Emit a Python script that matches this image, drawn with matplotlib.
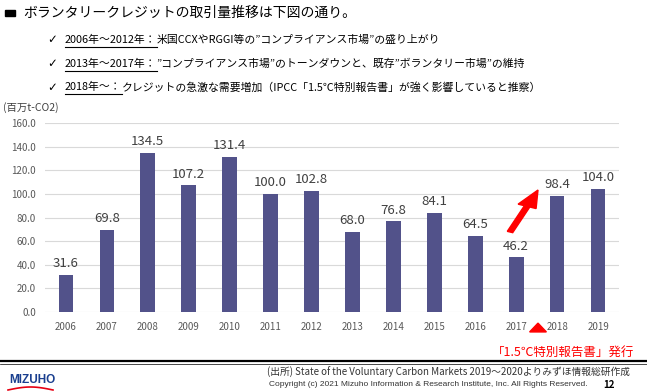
import matplotlib
matplotlib.use("Agg")
import matplotlib.pyplot as plt
from matplotlib.lines import Line2D
from matplotlib.patches import FancyArrow, RegularPolygon
import numpy as np

plt.rcParams['font.family'] = ['Noto Sans CJK JP', 'DejaVu Sans']

years = ['2006', '2007', '2008', '2009', '2010', '2011', '2012',
         '2013', '2014', '2015', '2016', '2017', '2018', '2019']
volumes = [31.6, 69.8, 134.5, 107.2, 131.4, 100.0, 102.8,
           68.0, 76.8, 84.1, 64.5, 46.2, 98.4, 104.0]
y_ticks = [0, 20, 40, 60, 80, 100, 120, 140, 160]

title = 'ボランタリークレジットの取引量推移は下図の通り。'
bullets = [
    ('2006年～2012年：', '米国CCXやRGGI等の”コンプライアンス市場”の盛り上がり'),
    ('2013年～2017年：', '”コンプライアンス市場”のトーンダウンと、既存”ボランタリー市場”の維持'),
    ('2018年～：', 'クレジットの急激な需要増加（IPCC「1.5℃特別報告書」が強く影響していると推察）'),
]

W, H = 647, 392
fig = plt.figure(figsize=(W / 100, H / 100), dpi=100)

def fx(px):
    return px / W

def fy(py):
    return 1 - py / H

bar_color = '#52528a'
ax = fig.add_axes([fx(45.5), fy(312), fx(618.5) - fx(45.5), fy(123) - fy(312)])
x = np.arange(len(years))
ax.bar(x, volumes, width=0.36, color=bar_color, zorder=3)
for xi, v in zip(x, volumes):
    ax.text(xi, v + 4, f'{v:.1f}', ha='center', va='bottom', fontsize=9.5, color='#404040')
ax.set_xlim(-0.5, len(years) - 0.5)
ax.set_ylim(0, 160)
ax.set_yticks(y_ticks)
ax.set_yticklabels([f'{t:.1f}' for t in y_ticks], fontsize=7, color='#595959')
ax.set_xticks(x)
ax.set_xticklabels(years, fontsize=7, color='#595959')
ax.tick_params(length=0, pad=7)
ax.grid(axis='y', color='#d9d9d9', linewidth=0.8, zorder=0)
for s in ax.spines.values():
    s.set_visible(False)

fig.text(fx(3), fy(108), '(百万t-CO2)', fontsize=7.5, va='center', ha='left', color='#404040')

# header
fig.add_artist(RegularPolygon((fx(10), fy(13)), 4, radius=0.011, orientation=np.pi / 4,
                              color='black', transform=fig.transFigure))
fig.text(fx(23), fy(13), title, fontsize=10, va='center', ha='left')

fig.canvas.draw()
renderer = fig.canvas.get_renderer()
for i, (head, body) in enumerate(bullets):
    yy = 40 + i * 23.5
    fig.text(fx(47), fy(yy), '✓', fontsize=8.5, va='center', ha='left', family='DejaVu Sans')
    t1 = fig.text(fx(65), fy(yy), head, fontsize=7.8, va='center', ha='left')
    bb = t1.get_window_extent(renderer)
    fig.text(bb.x1 / W, fy(yy), body, fontsize=7.8, va='center', ha='left')
    fig.add_artist(Line2D([bb.x0 / W, bb.x1 / W], [fy(yy + 7), fy(yy + 7)],
                          color='black', linewidth=0.8, transform=fig.transFigure))

# annotation
fig.add_artist(FancyArrow(fx(510), fy(232), fx(538) - fx(510), fy(190) - fy(232),
                          width=0.009, head_width=0.03, head_length=0.045,
                          length_includes_head=True, color='#ff0000',
                          transform=fig.transFigure))
fig.add_artist(RegularPolygon((fx(538), fy(329)), 3, radius=0.015,
                              color='#ff0000', transform=fig.transFigure))
fig.text(fx(563), fy(352), '「1.5℃特別報告書」発行', fontsize=9, color='#ff0000',
         ha='center', va='center')

# footer
fig.add_artist(Line2D([0, 1], [fy(361), fy(361)], color='black', linewidth=1.6,
                      transform=fig.transFigure))
fig.add_artist(Line2D([0, 1], [fy(363.5), fy(363.5)], color='black', linewidth=0.5,
                      transform=fig.transFigure))
fig.text(fx(630), fy(372), '(出所) State of the Voluntary Carbon Markets 2019～2020よりみずほ情報総研作成',
         fontsize=7, ha='right', va='center', color='#333333')
fig.text(fx(588), fy(385), 'Copyright (c) 2021 Mizuho Information & Research Institute, Inc. All Rights Reserved.',
         fontsize=6, ha='right', va='center', color='#333333', family='Liberation Sans')
fig.text(fx(603), fy(385), '12', fontsize=7, ha='left', va='center', fontweight='bold')
fig.text(fx(9), fy(380), 'MIZUHO', fontsize=8.5, fontweight='bold', color='#1a3f8f',
         ha='left', va='center', family='Liberation Sans')
t = np.linspace(0, 1, 30)
fig.add_artist(Line2D(fx(8 + 45 * t), fy(390 - 3 * np.sin(np.pi * t)), color='#e60012',
                      linewidth=1.2, transform=fig.transFigure))

fig.savefig('out.png', dpi=100)
